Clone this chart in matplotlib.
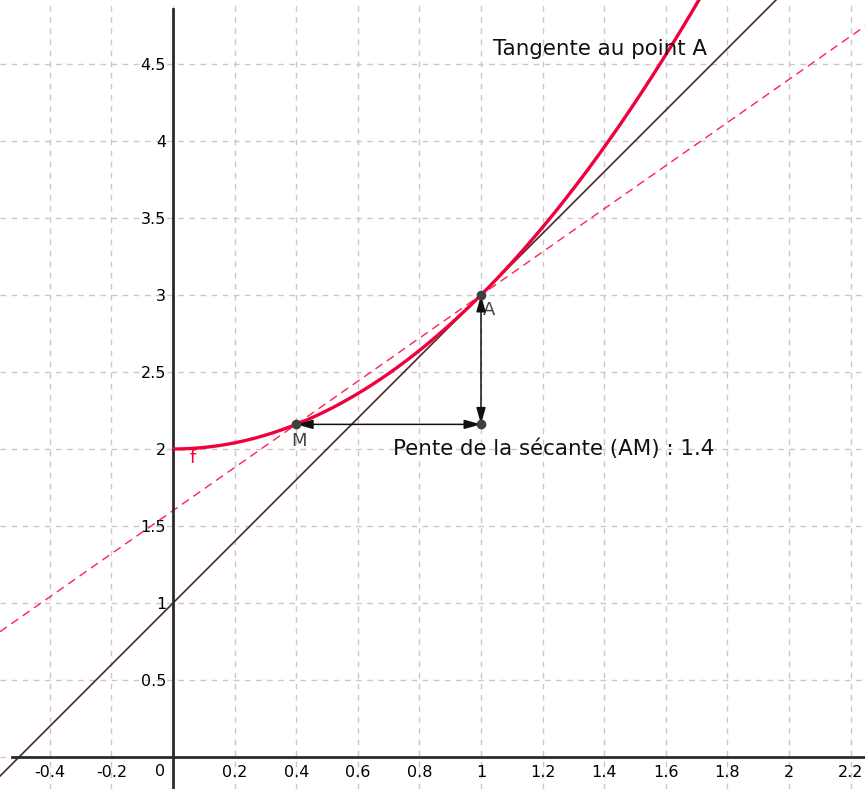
import numpy as np
import matplotlib as mpl
mpl.use('agg')
import matplotlib.pyplot as plt

# f(x) = x^2 + 2 (coefficients, highest power first)
f_coef = [1.0, 0.0, 2.0]
xA = 1.0
xM = 0.4
tangent_slope, tangent_icpt = 2.0, 1.0
secant_slope, secant_icpt = 1.4, 1.6
xticks = [-0.4, -0.2, 0.2, 0.4, 0.6, 0.8, 1, 1.2, 1.4, 1.6, 1.8, 2, 2.2]
yticks = [0.5, 1, 1.5, 2, 2.5, 3, 3.5, 4, 4.5]

xmin, xmax = -0.562, 2.247
ymin, ymax = -0.208, 4.916

red = '#f0003c'
brown = '#4a2828'
ptcol = '#404040'

fig = plt.figure(figsize=(8.65, 7.89), dpi=100)
ax = fig.add_axes([0, 0, 1, 1])
ax.set_xlim(xmin, xmax)
ax.set_ylim(ymin, ymax)

# grid
for gx in np.arange(-0.4, 2.3, 0.2):
    ax.axvline(gx, color='#c8c8c8', lw=1, ls=(0, (4, 4)), zorder=0)
for gy in np.arange(0, 5, 0.5):
    ax.axhline(gy, color='#c8c8c8', lw=1, ls=(0, (4, 4)), zorder=0)

# axes through origin
for s in ['top', 'right']:
    ax.spines[s].set_visible(False)
ax.spines['left'].set_position(('data', 0))
ax.spines['bottom'].set_position(('data', 0))
for s in ['left', 'bottom']:
    ax.spines[s].set_color('#2a2a2a')
    ax.spines[s].set_linewidth(2)
ax.spines['left'].set_bounds(ymin, 4.86)
ax.spines['bottom'].set_bounds(-0.524, xmax)
ax.set_xticks(xticks)
ax.set_yticks(yticks)
ax.set_xticklabels([f'{t:g}' for t in xticks])
ax.set_yticklabels([f'{t:g}' for t in yticks])
ax.tick_params(length=0, labelsize=11.5, colors='#000000')
ax.tick_params(axis='x', pad=6)
ax.tick_params(axis='y', pad=5)
ax.text(-0.042, -0.095, '0', fontsize=11.5, ha='center', va='center', color='#000000')

# lines
ax.axline((0, tangent_icpt), slope=tangent_slope, color=brown, lw=1.2, zorder=2)
ax.axline((0, secant_icpt), slope=secant_slope, color='#ff2050', lw=1.0,
          ls=(0, (6, 4)), zorder=2)

# curve
xs = np.linspace(0, 1.75, 300)
ax.plot(xs, np.polyval(f_coef, xs), color=red, lw=2.4, zorder=3,
        solid_capstyle='butt')

yA = np.polyval(f_coef, xA)
yM = np.polyval(f_coef, xM)

# arrows
ap = dict(arrowstyle='<|-|>,head_length=1.0,head_width=0.28', color='#111111',
          lw=1.1, mutation_scale=10, shrinkA=0, shrinkB=0)
ax.annotate('', xy=(xA, yM), xytext=(xM, yM), arrowprops=ap, zorder=4)
ax.annotate('', xy=(xA, yA), xytext=(xA, yM), arrowprops=ap, zorder=4)

# points
ax.plot([xA, xM, xA], [yA, yM, yM], 'o', color=ptcol, ms=6, zorder=5)

ax.text(xA + 0.005, yA - 0.1, 'A', fontsize=13, color='#444444', va='center')
ax.text(xM + 0.01, yM - 0.11, 'M', fontsize=13, color='#444444', va='center', ha='center')
ax.text(0.065, 1.94, 'f', fontsize=13, color=red, va='center', ha='center')

ax.text(0.714, 2.0, 'Pente de la sécante (AM) : 1.4', fontsize=15.4, va='center', color='#111111')
ax.text(1.039, 4.6, 'Tangente au point A', fontsize=15.4, va='center', color='#111111')

fig.savefig('out.png', dpi=100)
